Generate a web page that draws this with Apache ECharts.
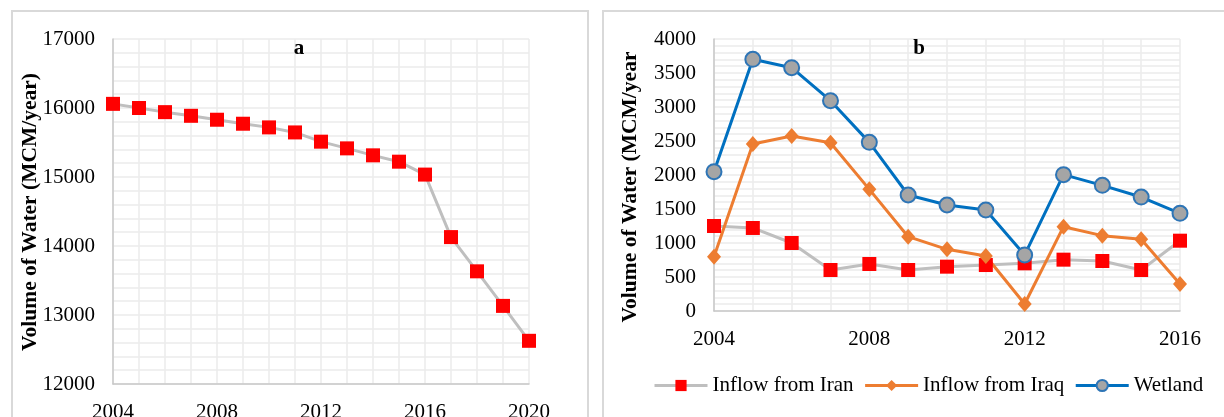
<!DOCTYPE html>
<html><head><meta charset="utf-8">
<script src="https://cdn.jsdelivr.net/npm/echarts@6/dist/echarts.min.js"></script>
<style>html,body{margin:0;padding:0;background:#fff}#c{width:1224px;height:417px}</style>
</head><body><div id="c"></div>
<script>
const yearsA = [2004,2005,2006,2007,2008,2009,2010,2011,2012,2013,2014,2015,2016,2017,2018,2019,2020];
const volumeA = [16060,16000,15940,15887,15830,15772,15719,15646,15512,15415,15314,15222,15035,14129,13633,13132,12626];
const yearsB = [2004,2005,2006,2007,2008,2009,2010,2011,2012,2013,2014,2015,2016];
const inflowIran = [1250,1221,1000,603,691,603,652,676,701,755,735,603,1034];
const inflowIraq = [799,2456,2574,2475,1789,1093,907,809,103,1240,1108,1054,397];
const wetland = [2049,3701,3578,3093,2480,1706,1559,1485,824,2005,1848,1676,1436];
const seriesNames = ['Inflow from Iran','Inflow from Iraq','Wetland'];
const yTitle = 'Volume of Water (MCM/year)';
const yTitleB = 'Volume of Water (MCM/year';

const pair = (xs, vs) => xs.map((x, i) => [x, vs[i]]);
const FONT = 'Liberation Serif';
const FS = 21;
const gridColor = '#ebebeb';
const axisColor = '#c8c8c8';

function xAx(gridIndex, min, max) {
  return {
    type: 'value', gridIndex, min, max, interval: 4,
    axisLine: {show: true, onZero: false, lineStyle: {color: axisColor, width: 1.5}},
    axisTick: {show: false},
    minorTick: {show: false, splitNumber: 4},
    splitLine: {show: true, lineStyle: {color: gridColor, width: 1.5}},
    minorSplitLine: {show: true, lineStyle: {color: gridColor, width: 1.5}},
    axisLabel: {color: '#000', fontFamily: FONT, fontSize: FS, margin: 18, formatter: v => String(v)}
  };
}
function yAx(gridIndex, min, max, interval) {
  return {
    type: 'value', gridIndex, min, max, interval,
    axisLine: {show: true, lineStyle: {color: axisColor, width: 1.5}},
    axisTick: {show: false},
    minorTick: {show: false, splitNumber: 5},
    splitLine: {show: true, lineStyle: {color: gridColor, width: 1.5}},
    minorSplitLine: {show: true, lineStyle: {color: gridColor, width: 1.5}},
    axisLabel: {color: '#000', fontFamily: FONT, fontSize: FS, margin: 18, formatter: v => String(v)}
  };
}

const chart = echarts.init(document.getElementById('c'), null, {renderer: 'canvas'});
chart.setOption({
  animation: false,
  backgroundColor: '#fff',
  grid: [
    {left: 113, right: 1224 - 529, top: 39, bottom: 417 - 384, outerBoundsMode: 'none', containLabel: false},
    {left: 714, right: 1224 - 1180, top: 39, bottom: 417 - 311, outerBoundsMode: 'none', containLabel: false}
  ],
  xAxis: [xAx(0, 2004, 2020), xAx(1, 2004, 2016)],
  yAxis: [yAx(0, 12000, 17000, 1000), yAx(1, 0, 4000, 500)],
  legend: {
    data: seriesNames,
    left: 648, top: 370,
    itemWidth: 53, itemHeight: 14, itemGap: 10,
    lineStyle: {width: 3},
    textStyle: {fontFamily: FONT, fontSize: FS, color: '#000'}
  },
  graphic: [
    {type: 'rect', silent: true, z: -10, shape: {x: 12, y: 11, width: 576, height: 430},
     style: {fill: 'none', stroke: '#d9d9d9', lineWidth: 2}},
    {type: 'rect', silent: true, z: -10, shape: {x: 603, y: 11, width: 640, height: 430},
     style: {fill: 'none', stroke: '#d9d9d9', lineWidth: 2}},
    {type: 'text', x: 299, y: 49, z: 10,
     style: {text: 'a', font: 'bold 21px "Liberation Serif"', fill: '#000', textAlign: 'center', textVerticalAlign: 'middle'}},
    {type: 'text', x: 919, y: 49, z: 10,
     style: {text: 'b', font: 'bold 21px "Liberation Serif"', fill: '#000', textAlign: 'center', textVerticalAlign: 'middle'}},
    {type: 'text', x: 30, y: 212, rotation: Math.PI / 2, z: 10,
     style: {text: yTitle, font: 'bold 21.5px "Liberation Serif"', fill: '#000', textAlign: 'center', textVerticalAlign: 'middle'}},
    {type: 'text', x: 630, y: 187, rotation: Math.PI / 2, z: 10,
     style: {text: yTitleB, font: 'bold 21.5px "Liberation Serif"', fill: '#000', textAlign: 'center', textVerticalAlign: 'middle'}}
  ],
  series: [
    {
      name: 'Volume', type: 'line', xAxisIndex: 0, yAxisIndex: 0,
      data: pair(yearsA, volumeA),
      lineStyle: {color: '#bfbfbf', width: 3},
      symbol: 'rect', symbolSize: 14,
      itemStyle: {color: '#ff0000'}
    },
    {
      name: seriesNames[0], type: 'line', xAxisIndex: 1, yAxisIndex: 1,
      data: pair(yearsB, inflowIran),
      lineStyle: {color: '#bfbfbf', width: 3},
      symbol: 'rect', symbolSize: 14,
      itemStyle: {color: '#ff0000'}
    },
    {
      name: seriesNames[1], type: 'line', xAxisIndex: 1, yAxisIndex: 1,
      data: pair(yearsB, inflowIraq),
      lineStyle: {color: '#ed7d31', width: 3},
      symbol: 'diamond', symbolSize: [14, 16],
      itemStyle: {color: '#ed7d31'}
    },
    {
      name: seriesNames[2], type: 'line', xAxisIndex: 1, yAxisIndex: 1,
      data: pair(yearsB, wetland),
      lineStyle: {color: '#0070c0', width: 3},
      symbol: 'circle', symbolSize: 15,
      itemStyle: {color: '#a5a5a5', borderColor: '#2e75b6', borderWidth: 2}
    }
  ]
});
</script></body></html>
